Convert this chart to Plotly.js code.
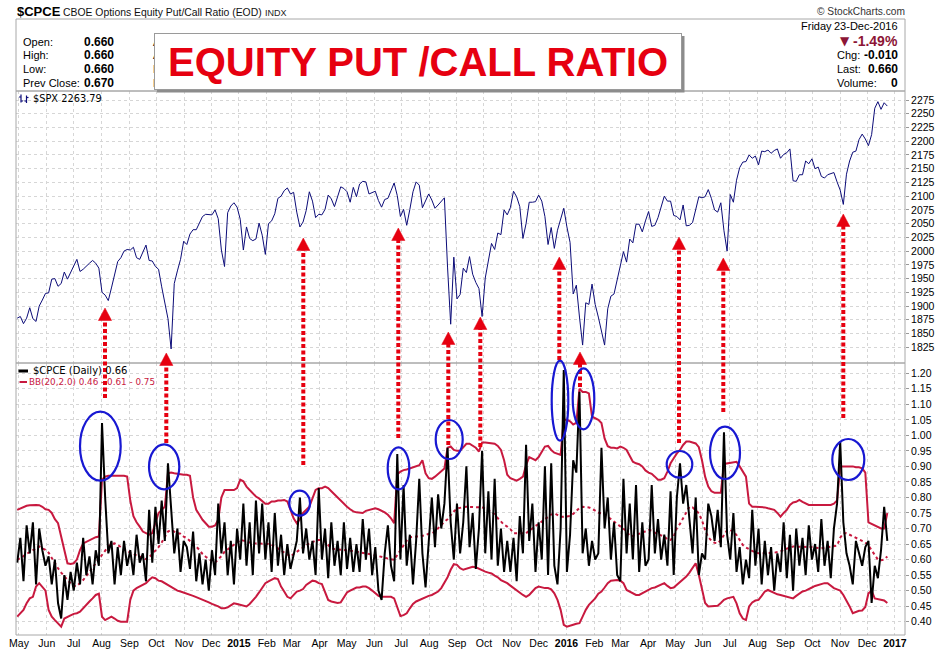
<!DOCTYPE html>
<html>
<head>
<meta charset="utf-8">
<script src="https://cdn.plot.ly/plotly-3.0.1.min.js"></script>
<style>html,body{margin:0;padding:0;background:#fff;}#chart{width:950px;height:650px;}</style>
</head>
<body>
<div id="chart"></div>
<script>
// Samples every 3.5 calendar days starting 29-Apr-2014 (index i -> startDate + i*stepDays)
const startDate = Date.UTC(2014, 3, 29);
const stepDays = 3.5;

// $SPX
const spx = [
1878,1881,1868,1878,1897,1877,1872,1900,1911,1923,
1924,1949,1950,1936,1941,1962,1949,1960,1973,1985,
1963,1967,1973,1978,1983,1978,1969,1925,1920,1910,
1933,1955,1981,1988,2000,2003,2002,2007,1988,1985,
1998,2011,1983,1982,1972,1967,1935,1906,1877,1822,
1941,1964,1985,2018,2012,2031,2039,2039,2051,2063,
2067,2067,2066,2075,2059,2002,1972,2070,2082,2088,
2080,2058,2002,2044,2023,2019,2022,2051,2029,1994,
2050,2055,2068,2096,2100,2110,2115,2104,2107,2071,
2044,2053,2074,2108,2091,2061,2067,2066,2076,2102,
2095,2081,2097,2117,2114,2108,2089,2116,2099,2122,
2127,2126,2104,2107,2109,2092,2080,2094,2096,2110,
2124,2101,2063,2076,2047,2076,2108,2126,2120,2079,
2093,2104,2093,2078,2084,2091,2097,1971,1867,1989,
1913,1921,1969,1961,1990,1958,1943,1932,1881,1951,
1980,2014,2003,2033,2030,2075,2066,2079,2109,2099,
2081,2023,2050,2089,2089,2090,2102,2091,2063,2012,
2043,2005,2038,2060,2078,2044,2016,1922,1938,1880,
1829,1906,1903,1940,1903,1880,1853,1829,1895,1918,
1922,1948,1978,1999,1980,2022,2015,2049,2049,2035,
2055,2072,2045,2047,2061,2081,2100,2091,2091,2065,
2063,2057,2084,2046,2047,2052,2076,2099,2097,2099,
2112,2096,2075,2071,2088,2037,2000,2103,2089,2129,
2152,2162,2163,2175,2169,2173,2157,2182,2181,2184,
2178,2183,2186,2169,2176,2179,2186,2128,2127,2139,
2139,2164,2159,2168,2150,2153,2136,2133,2139,2141,
2143,2126,2111,2085,2140,2164,2180,2182,2203,2213,
2204,2192,2212,2260,2272,2258,2270,2264];

// $CPCE
const cpce = [
0.59,0.67,0.53,0.71,0.62,0.72,0.52,0.70,0.63,0.58,
0.61,0.52,0.60,0.46,0.41,0.55,0.47,0.56,0.50,0.59,
0.52,0.67,0.55,0.61,0.52,0.63,0.58,1.04,0.80,0.62,
0.66,0.52,0.64,0.55,0.66,0.58,0.63,0.55,0.68,0.59,
0.62,0.53,0.76,0.59,0.77,0.65,0.79,0.66,0.91,0.78,
0.62,0.70,0.56,0.66,0.64,0.57,0.69,0.53,0.62,0.52,
0.60,0.50,0.63,0.55,0.78,0.62,0.72,0.55,0.66,0.52,
0.70,0.60,0.78,0.58,0.72,0.55,0.79,0.62,0.78,0.60,
0.72,0.56,0.75,0.58,0.68,0.55,0.65,0.57,0.62,0.66,
0.80,0.62,0.70,0.60,0.66,0.55,0.83,0.60,0.70,0.54,
0.72,0.58,0.66,0.55,0.72,0.57,0.67,0.56,0.65,0.56,
0.73,0.60,0.70,0.55,0.64,0.50,0.47,0.62,0.71,0.58,
0.53,0.94,0.60,0.84,0.58,0.68,0.52,0.66,0.86,0.62,
0.51,0.66,0.80,0.64,0.81,0.70,0.78,0.96,0.72,0.60,
0.78,0.62,0.72,0.90,0.64,0.75,0.57,0.70,0.95,0.62,
0.82,0.60,0.86,0.58,0.70,0.56,0.66,0.56,0.67,0.53,
0.74,0.62,0.97,0.66,0.78,0.56,0.72,0.60,0.90,0.55,
0.91,0.58,0.52,0.70,1.21,0.56,0.68,0.92,0.88,1.14,
0.62,0.70,0.58,0.66,0.60,0.62,0.96,0.70,0.80,0.60,
0.72,0.55,0.53,0.86,0.62,0.78,0.60,0.84,0.56,0.72,
0.58,0.60,0.84,0.62,0.73,0.60,0.68,0.58,0.82,0.55,
0.80,0.91,0.78,0.84,0.72,0.62,0.80,0.55,0.62,0.60,
0.78,0.74,0.66,0.76,0.64,1.01,0.68,0.60,0.75,0.56,
0.64,0.52,0.60,0.54,0.76,0.58,0.70,0.52,0.66,0.55,
0.64,0.50,0.62,0.56,0.72,0.54,0.68,0.50,0.70,0.58,
0.67,0.55,0.71,0.60,0.65,0.56,0.73,0.58,0.66,0.54,
0.70,0.78,0.98,0.72,0.62,0.58,0.52,0.66,0.62,0.58,
0.64,0.66,0.46,0.58,0.54,0.63,0.77,0.66];

// Bollinger Bands (20,2.0)
const bbUpper = [
0.76,0.765,0.77,0.773,0.775,0.776,0.776,0.775,0.77,0.762,
0.76,0.75,0.73,0.717,0.674,0.63,0.588,0.586,0.588,0.60,
0.63,0.652,0.657,0.663,0.668,0.672,0.674,0.857,0.867,0.87,
0.87,0.87,0.87,0.87,0.87,0.867,0.79,0.74,0.72,0.706,
0.69,0.685,0.68,0.685,0.72,0.75,0.76,0.77,0.878,0.88,
0.878,0.876,0.876,0.873,0.873,0.87,0.80,0.76,0.744,0.728,
0.717,0.706,0.706,0.71,0.728,0.80,0.824,0.824,0.824,0.824,
0.83,0.857,0.852,0.835,0.824,0.813,0.803,0.797,0.787,0.78,
0.78,0.787,0.787,0.79,0.79,0.792,0.787,0.76,0.733,0.717,
0.73,0.75,0.76,0.77,0.797,0.824,0.83,0.83,0.835,0.83,
0.82,0.81,0.80,0.787,0.78,0.77,0.762,0.755,0.752,0.75,
0.75,0.757,0.76,0.762,0.765,0.762,0.757,0.752,0.744,0.733,
0.717,0.875,0.883,0.888,0.89,0.893,0.897,0.90,0.904,0.92,
0.878,0.862,0.86,0.867,0.876,0.883,0.893,0.96,0.964,0.953,
0.95,0.95,0.96,0.973,0.973,0.966,0.96,0.948,0.977,0.977,
0.975,0.975,0.973,0.966,0.953,0.92,0.873,0.862,0.857,0.854,
0.86,0.867,0.904,0.93,0.925,0.92,0.93,0.948,0.964,0.966,
0.953,0.944,0.94,0.937,1.05,1.05,1.045,1.035,1.04,1.15,
1.14,1.14,1.135,1.06,1.055,1.05,1.04,0.99,0.965,0.96,
0.96,0.958,0.964,0.96,0.953,0.934,0.915,0.91,0.907,0.90,
0.887,0.88,0.876,0.867,0.857,0.857,0.862,0.883,0.91,0.926,
0.942,0.953,0.969,0.98,0.98,0.977,0.974,0.962,0.92,0.867,
0.835,0.82,0.815,0.815,0.815,0.908,0.91,0.912,0.915,0.915,
0.90,0.883,0.867,0.78,0.77,0.77,0.77,0.77,0.768,0.765,
0.762,0.76,0.75,0.738,0.75,0.76,0.776,0.784,0.786,0.792,
0.786,0.78,0.776,0.776,0.776,0.776,0.776,0.776,0.776,0.776,
0.78,0.79,0.90,0.90,0.90,0.90,0.90,0.897,0.897,0.894,
0.88,0.72,0.715,0.71,0.705,0.70,0.70,0.75];

const bbMid = [
0.599,0.604,0.611,0.618,0.624,0.631,0.636,0.642,0.636,0.631,
0.622,0.604,0.588,0.572,0.558,0.545,0.534,0.524,0.515,0.515,
0.524,0.534,0.547,0.561,0.575,0.59,0.604,0.618,0.631,0.642,
0.65,0.652,0.647,0.64,0.633,0.629,0.622,0.618,0.613,0.609,
0.605,0.601,0.607,0.618,0.629,0.64,0.655,0.672,0.69,0.695,
0.69,0.685,0.683,0.674,0.669,0.661,0.652,0.642,0.631,0.618,
0.609,0.601,0.595,0.59,0.599,0.611,0.625,0.633,0.642,0.65,
0.658,0.663,0.661,0.658,0.655,0.652,0.652,0.652,0.652,0.652,
0.65,0.647,0.642,0.636,0.629,0.622,0.615,0.61,0.618,0.625,
0.631,0.64,0.647,0.652,0.656,0.661,0.663,0.663,0.658,0.647,
0.636,0.634,0.633,0.631,0.631,0.629,0.628,0.627,0.626,0.623,
0.622,0.62,0.618,0.616,0.614,0.611,0.609,0.606,0.603,0.601,
0.599,0.615,0.631,0.647,0.661,0.672,0.674,0.674,0.674,0.676,
0.679,0.683,0.685,0.69,0.701,0.712,0.722,0.73,0.743,0.755,
0.764,0.767,0.769,0.77,0.77,0.77,0.77,0.77,0.768,0.764,
0.758,0.751,0.747,0.733,0.722,0.712,0.706,0.698,0.685,0.685,
0.685,0.685,0.685,0.692,0.701,0.708,0.715,0.722,0.73,0.738,
0.745,0.749,0.744,0.738,0.738,0.738,0.74,0.747,0.755,0.766,
0.77,0.77,0.768,0.764,0.758,0.751,0.749,0.745,0.738,0.73,
0.72,0.713,0.706,0.699,0.692,0.676,0.676,0.681,0.683,0.687,
0.69,0.695,0.693,0.687,0.681,0.678,0.674,0.665,0.663,0.674,
0.701,0.715,0.733,0.754,0.77,0.768,0.76,0.749,0.726,0.695,
0.672,0.661,0.654,0.652,0.663,0.679,0.695,0.695,0.69,0.679,
0.663,0.647,0.639,0.633,0.626,0.622,0.62,0.62,0.62,0.62,
0.621,0.622,0.624,0.626,0.631,0.636,0.639,0.642,0.642,0.642,
0.642,0.642,0.641,0.64,0.638,0.636,0.636,0.638,0.64,0.641,
0.642,0.645,0.67,0.685,0.685,0.68,0.675,0.67,0.665,0.66,
0.655,0.645,0.63,0.615,0.60,0.598,0.60,0.61];

const bbLower = [
0.416,0.427,0.438,0.459,0.475,0.48,0.513,0.524,0.51,0.50,
0.438,0.416,0.405,0.395,0.384,0.41,0.416,0.42,0.425,0.427,
0.432,0.443,0.457,0.465,0.475,0.486,0.49,0.416,0.405,0.41,
0.416,0.41,0.403,0.40,0.40,0.40,0.47,0.50,0.508,0.513,
0.518,0.524,0.534,0.543,0.54,0.532,0.53,0.524,0.518,0.51,
0.505,0.50,0.497,0.494,0.491,0.486,0.483,0.479,0.475,0.472,
0.468,0.462,0.457,0.454,0.449,0.443,0.443,0.446,0.454,0.459,
0.457,0.454,0.45,0.449,0.457,0.468,0.48,0.494,0.51,0.524,
0.53,0.534,0.54,0.537,0.513,0.497,0.48,0.475,0.486,0.497,
0.50,0.505,0.518,0.526,0.532,0.53,0.524,0.521,0.495,0.47,
0.465,0.462,0.46,0.462,0.48,0.494,0.50,0.505,0.51,0.51,
0.513,0.513,0.508,0.50,0.491,0.483,0.48,0.48,0.48,0.48,
0.475,0.448,0.418,0.421,0.427,0.443,0.457,0.465,0.47,0.475,
0.48,0.483,0.486,0.491,0.497,0.508,0.524,0.543,0.567,0.585,
0.583,0.572,0.567,0.57,0.575,0.577,0.575,0.57,0.565,0.561,
0.558,0.555,0.548,0.543,0.534,0.53,0.524,0.516,0.508,0.502,
0.494,0.486,0.48,0.486,0.497,0.508,0.513,0.51,0.508,0.508,
0.504,0.491,0.47,0.438,0.39,0.384,0.386,0.39,0.393,0.395,
0.416,0.438,0.454,0.465,0.475,0.49,0.497,0.51,0.524,0.532,
0.534,0.534,0.532,0.524,0.502,0.497,0.491,0.486,0.486,0.491,
0.497,0.502,0.508,0.51,0.515,0.521,0.524,0.515,0.508,0.51,
0.518,0.526,0.534,0.545,0.558,0.572,0.588,0.55,0.508,0.46,
0.449,0.449,0.449,0.451,0.46,0.47,0.475,0.478,0.48,0.459,
0.427,0.41,0.405,0.449,0.462,0.468,0.47,0.483,0.497,0.502,
0.497,0.491,0.488,0.486,0.483,0.481,0.478,0.475,0.483,0.491,
0.497,0.50,0.504,0.51,0.515,0.518,0.521,0.524,0.524,0.515,
0.508,0.504,0.50,0.486,0.468,0.449,0.427,0.432,0.435,0.436,
0.447,0.491,0.50,0.475,0.472,0.47,0.468,0.46];

const monthTicks = ['2014-05-01','2014-06-01','2014-07-01','2014-08-01','2014-09-01','2014-10-01','2014-11-01','2014-12-01',
'2015-01-01','2015-02-01','2015-03-01','2015-04-01','2015-05-01','2015-06-01','2015-07-01','2015-08-01','2015-09-01','2015-10-01','2015-11-01','2015-12-01',
'2016-01-01','2016-02-01','2016-03-01','2016-04-01','2016-05-01','2016-06-01','2016-07-01','2016-08-01','2016-09-01','2016-10-01','2016-11-01','2016-12-01','2017-01-01'];
const monthLabels = ['May','Jun','Jul','Aug','Sep','Oct','Nov','Dec',
'<b>2015</b>','Feb','Mar','Apr','May','Jun','Jul','Aug','Sep','Oct','Nov','Dec',
'<b>2016</b>','Feb','Mar','Apr','May','Jun','Jul','Aug','Sep','Oct','Nov','Dec','<b>2017</b>'];
const spxTicks = [1825,1850,1875,1900,1925,1950,1975,2000,2025,2050,2075,2100,2125,2150,2175,2200,2225,2250,2275];
const cpceTicks = [0.40,0.45,0.50,0.55,0.60,0.65,0.70,0.75,0.80,0.85,0.90,0.95,1.00,1.05,1.10,1.15,1.20];

// x index dates
const dates = spx.map((_, i) => new Date(startDate + i * stepDays * 86400000).toISOString().slice(0, 16).replace('T', ' '));

// ---- layout helpers (pixel -> paper) ----
const L = 16, R = 905, T = 91, B = 635;
const PX = px => (px - L) / (R - L);
const PY = py => (B - py) / (B - T);
const SANS = 'Liberation Sans, Arial, sans-serif';
const DJ = 'DejaVu Sans, Verdana, sans-serif';
const CRIMSON = '#c8193f';
const RED = '#e60010';
const NAVY = '#0c0c78';

function txt(px, py, text, size, o) {
  o = o || {};
  return {xref:'paper', yref:'paper', x:PX(px), y:PY(py), text:text, showarrow:false,
    xanchor:o.anchor || 'left', yanchor:'middle', borderpad:0,
    font:{family:o.family || SANS, size:size, color:o.color || '#000'}};
}
function seg(x0, y0, x1, y1, color, width, extra) {
  return Object.assign({type:'line', xref:'paper', yref:'paper', x0:PX(x0), x1:PX(x1), y0:PY(y0), y1:PY(y1),
    line:{color:color, width:width}}, extra || {});
}

const traces = [
  {x:dates, y:spx, type:'scatter', mode:'lines', xaxis:'x', yaxis:'y', line:{color:NAVY, width:1}, hoverinfo:'skip'},
  {x:dates, y:bbUpper, type:'scatter', mode:'lines', xaxis:'x', yaxis:'y2', line:{color:CRIMSON, width:2}, hoverinfo:'skip'},
  {x:dates, y:bbLower, type:'scatter', mode:'lines', xaxis:'x', yaxis:'y2', line:{color:CRIMSON, width:2}, hoverinfo:'skip'},
  {x:dates, y:bbMid, type:'scatter', mode:'lines', xaxis:'x', yaxis:'y2', line:{color:CRIMSON, width:2, dash:'dot'}, hoverinfo:'skip'},
  {x:dates, y:cpce, type:'scatter', mode:'lines', xaxis:'x', yaxis:'y2', line:{color:'#000', width:2}, hoverinfo:'skip'}
];

const shapes = [];
const border = '#a8a8a8';
shapes.push({type:'rect', xref:'paper', yref:'paper', x0:0, x1:1, y0:PY(91), y1:PY(19), line:{color:border, width:1}});
shapes.push({type:'rect', xref:'paper', yref:'paper', x0:0, x1:1, y0:0.5, y1:1, line:{color:border, width:1}});
shapes.push({type:'rect', xref:'paper', yref:'paper', x0:0, x1:1, y0:0, y1:0.5, line:{color:border, width:1}});
// title shadow
shapes.push({type:'rect', xref:'paper', yref:'paper', x0:PX(157), x1:PX(684.5), y0:PY(92.5), y1:PY(36), fillcolor:'#8c8c8c', line:{width:0}});

// red dotted arrows: [x, tip y, bottom y] in pixels
const arrows = [[105,308,398],[166.3,353,443],[303.3,238,465],[398.3,228,438],[448.3,332,445],[480.3,317,447],
  [559.3,257,360],[580,352,387],[679,237,443],[723.3,258,412],[843.3,214,418]];
arrows.forEach(a => {
  const [x, tip, bot] = a;
  shapes.push({type:'line', xref:'paper', yref:'paper', layer:'above', x0:PX(x), x1:PX(x), y0:PY(bot), y1:PY(tip + 12),
    line:{color:RED, width:4, dash:'4px,2.5px'}});
  shapes.push({type:'path', xref:'paper', yref:'paper', layer:'above', fillcolor:RED, line:{color:RED, width:0.5},
    path:`M ${PX(x - 6.6)},${PY(tip + 12.5)} L ${PX(x + 6.6)},${PY(tip + 12.5)} L ${PX(x)},${PY(tip)} Z`});
});

// blue ellipses: [x0, y0, x1, y1] in pixels
const ellipses = [[80,411.7,120.7,480.7],[149,444.3,179.3,489.3],[289.3,490.7,310,515.7],[387.7,447.3,409.3,489.3],
  [435.7,420,462.7,459],[551.7,360.7,568.3,440.7],[572.7,368.3,594.3,429.3],[666.7,451,692.3,477.7],
  [710,426.7,740,479],[832.3,439,864.3,480]];
ellipses.forEach(e => {
  shapes.push({type:'circle', xref:'paper', yref:'paper', layer:'above', x0:PX(e[0]), x1:PX(e[2]), y0:PY(e[3]), y1:PY(e[1]),
    line:{color:'#1818d2', width:2.2}});
});

// legend icons
shapes.push(seg(18.5, 371, 28, 371, '#000', 3));
shapes.push(seg(19.5, 382, 27, 382, CRIMSON, 2));
// small bar-chart glyph before $SPX
shapes.push(seg(21, 94.5, 21, 102.5, NAVY, 1.2));
shapes.push(seg(19, 97, 21, 97, NAVY, 1.2));
shapes.push(seg(21, 101, 23, 101, NAVY, 1.2));
shapes.push(seg(26.5, 95.5, 26.5, 103, NAVY, 1.2));
shapes.push(seg(24.5, 101, 26.5, 101, NAVY, 1.2));
shapes.push(seg(26.5, 97.5, 28.5, 97.5, NAVY, 1.2));

const ann = [];
// header line
ann.push(txt(15.5, 12, '<b>$CPCE</b>', 13));
ann.push(txt(61.5, 12.5, 'CBOE Options Equity Put/Call Ratio (EOD)', 10.4, {color:'#111'}));
ann.push(txt(264, 13, 'INDX', 9, {color:'#222'}));
ann.push(txt(905.5, 11.5, '© StockCharts.com', 10.2, {anchor:'right', color:'#333'}));
// left stats
const rowsY = [41.7, 55.3, 69.3, 83.3];
['Open:','High:','Low:','Prev Close:'].forEach((t, k) => ann.push(txt(21.5, rowsY[k], t, 11)));
['0.660','0.660','0.660','0.670'].forEach((t, k) => ann.push(txt(82.5, rowsY[k], '<b>' + t + '</b>', 12)));
['A','A','E','E'].forEach((t, k) => ann.push(txt(151.5, rowsY[k], t, 11)));
// right stats
ann.push(txt(800, 25.7, 'Friday', 11));
ann.push(txt(899, 25.7, '23-Dec-2016', 11, {anchor:'right'}));
ann.push(txt(838.5, 41.3, '▼', 12, {color:'#8c1536', family:DJ}));
ann.push(txt(899, 41.3, '<b>-1.49%</b>', 14, {anchor:'right', color:'#8c1536'}));
ann.push(txt(835.5, 55.3, 'Chg:', 11));
ann.push(txt(899, 55.3, '<b>-0.010</b>', 12, {anchor:'right'}));
ann.push(txt(835.5, 69.3, 'Last:', 11));
ann.push(txt(899, 69.3, '<b>0.660</b>', 12, {anchor:'right'}));
ann.push(txt(835.5, 83.3, 'Volume:', 11));
ann.push(txt(899, 83.3, '<b>0</b>', 12, {anchor:'right'}));
// panel labels
ann.push(txt(31.5, 98.5, '$SPX 2263.79', 9.8, {family:DJ}));
ann.push(txt(31.5, 370.7, '$CPCE (Daily) 0.66', 10, {family:DJ}));
ann.push(txt(28.3, 381.8, 'BB(20,2.0) 0.46 - 0.61 - 0.75', 8.8, {family:DJ, color:CRIMSON}));
// big title (drawn last so it covers the header text behind it)
ann.push({xref:'paper', yref:'paper', x:PX(417.9), y:PY(61.5), xanchor:'center', yanchor:'middle', showarrow:false,
  text:'<b>EQUITY PUT /CALL RATIO</b>', width:526, height:55, align:'center', valign:'middle',
  bgcolor:'#ffffff', bordercolor:'#9a9a9a', borderwidth:1, borderpad:0,
  font:{family:SANS, size:40, color:RED}});

const grid = '#d6d6d6';
const tickFont = {family:SANS, size:10.5, color:'#000'};
const layout = {
  width:950, height:650,
  margin:{l:16, r:45, t:91, b:15, pad:0},
  paper_bgcolor:'#ffffff', plot_bgcolor:'#ffffff',
  showlegend:false,
  xaxis:{type:'date', range:['2014-04-27 16:00','2017-01-12 05:00'], anchor:'y2',
    tickmode:'array', tickvals:monthTicks, ticktext:monthLabels, ticks:'', tickfont:tickFont,
    showgrid:true, gridcolor:grid, griddash:'dot', gridwidth:1, zeroline:false, showline:false, fixedrange:true},
  yaxis:{domain:[0.5,1], anchor:'x', side:'right', range:[1796.4,2291.4],
    tickmode:'array', tickvals:spxTicks, ticks:'outside', ticklen:3, tickcolor:'#999', tickfont:tickFont,
    showgrid:true, gridcolor:grid, griddash:'dot', gridwidth:1, zeroline:false, showline:false, fixedrange:true},
  yaxis2:{domain:[0,0.5], anchor:'x', side:'right', range:[0.357,1.233],
    tickmode:'array', tickvals:cpceTicks, tickformat:'.2f', ticks:'outside', ticklen:3, tickcolor:'#999', tickfont:tickFont,
    showgrid:true, gridcolor:grid, griddash:'dot', gridwidth:1, zeroline:false, showline:false, fixedrange:true},
  shapes:shapes,
  annotations:ann
};

Plotly.newPlot('chart', traces, layout, {staticPlot:true, displayModeBar:false});
</script>
</body>
</html>
